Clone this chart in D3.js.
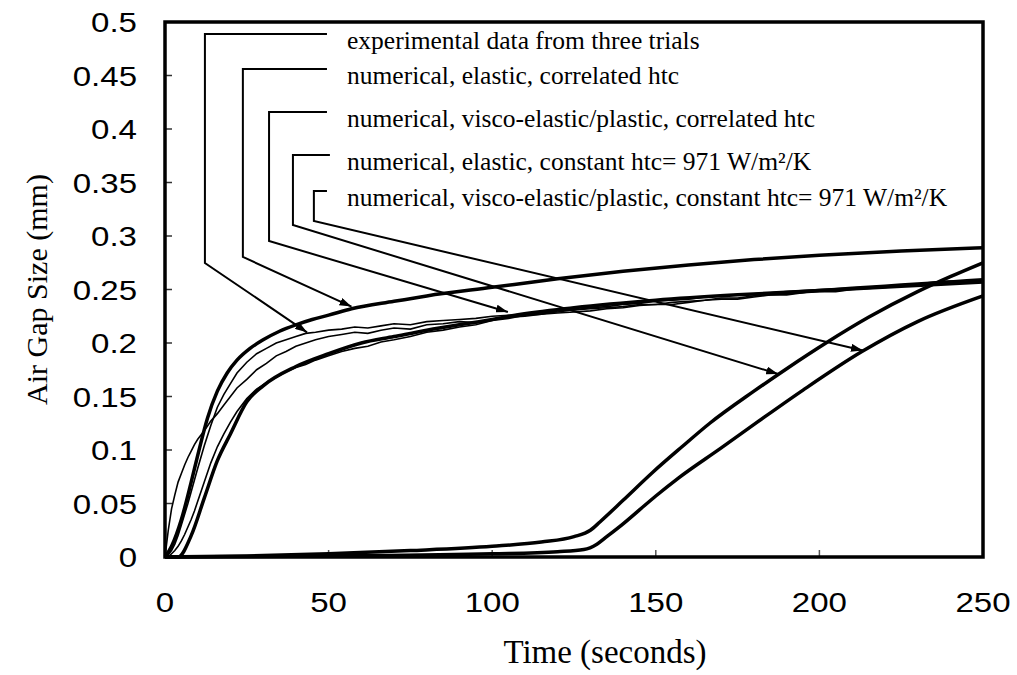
<!DOCTYPE html>
<html>
<head>
<meta charset="utf-8">
<script src="https://cdn.jsdelivr.net/npm/d3@7"></script>
<style>
  body { margin: 0; background: #fff; }
  .tick-label { font-family: "Liberation Sans", Arial, sans-serif; font-size: 28px; fill: #000; }
  .axis-title, .legend-text { font-family: "Liberation Serif", "Times New Roman", serif; fill: #000; }
</style>
</head>
<body>
<div id="chart"></div>
<script>
// time axis values (seconds) and air gap (mm)
var xTicks = [0, 50, 100, 150, 200, 250];
var yTicks = [0, 0.05, 0.1, 0.15, 0.2, 0.25, 0.3, 0.35, 0.4, 0.45, 0.5];

// numerical, elastic, correlated htc
var elasticCorrTime = [0, 2, 5, 8, 10, 13, 16, 19, 22, 26, 30, 35, 40, 45, 50, 57, 70, 80, 100, 120, 140, 160, 180, 200, 225, 250];
var elasticCorrGap = [0, 0.01, 0.035, 0.07, 0.095, 0.13, 0.155, 0.172, 0.184, 0.195, 0.203, 0.211, 0.217, 0.222, 0.226, 0.232, 0.239, 0.244, 0.252, 0.26, 0.267, 0.273, 0.278, 0.282, 0.286, 0.289];

// numerical, visco-elastic/plastic, correlated htc
var viscoCorrTime = [0, 4, 8, 12, 16, 20, 25, 30, 40, 50, 60, 70, 80, 100, 107, 125, 150, 175, 200, 225, 250];
var viscoCorrGap = [0, 0, 0.02, 0.055, 0.09, 0.115, 0.145, 0.16, 0.178, 0.19, 0.2, 0.206, 0.212, 0.222, 0.226, 0.233, 0.24, 0.245, 0.249, 0.253, 0.257];

// numerical, elastic, constant htc
var elasticConstTime = [0, 25, 50, 75, 100, 115, 125, 130, 133, 140, 149, 158, 166.5, 180, 190, 202, 215, 230, 240, 250];
var elasticConstGap = [0, 0.001, 0.003, 0.006, 0.01, 0.014, 0.019, 0.025, 0.033, 0.053, 0.079, 0.103, 0.125, 0.155, 0.176, 0.2, 0.224, 0.248, 0.262, 0.275];

// numerical, visco-elastic/plastic, constant htc
var viscoConstTime = [0, 50, 100, 120, 128, 132, 135, 140, 145, 150, 157, 170, 181, 195, 213, 230, 250];
var viscoConstGap = [0, 0.001, 0.003, 0.005, 0.007, 0.012, 0.019, 0.031, 0.044, 0.057, 0.074, 0.102, 0.126, 0.156, 0.192, 0.22, 0.244];

// experimental data, three trials
var expTime = [0, 1, 2, 3, 4, 5, 6, 7, 8, 9, 10, 12, 14, 16, 18, 20, 22, 25, 28, 31, 34, 37, 40, 43, 46, 50, 54, 58, 62, 66, 70, 75, 80, 85, 90, 95, 100, 105, 110, 115, 120, 125, 130, 135, 140, 145, 150, 155, 160, 165, 170, 175, 180, 185, 190, 195, 200, 205, 210, 215, 220, 225, 230, 235, 240, 245, 250];
var trial1 = [0, 0.025, 0.045, 0.058, 0.07, 0.078, 0.086, 0.093, 0.099, 0.105, 0.11, 0.118, 0.127, 0.134, 0.142, 0.15, 0.158, 0.166, 0.175, 0.181, 0.188, 0.192, 0.197, 0.2, 0.203, 0.206, 0.208, 0.21, 0.209, 0.212, 0.214, 0.213, 0.217, 0.218, 0.22, 0.219, 0.222, 0.224, 0.225, 0.227, 0.228, 0.229, 0.23, 0.232, 0.233, 0.235, 0.236, 0.236, 0.238, 0.24, 0.241, 0.241, 0.243, 0.245, 0.245, 0.247, 0.248, 0.248, 0.25, 0.251, 0.252, 0.253, 0.255, 0.256, 0.257, 0.258, 0.259];
var trial2 = [0, 0.002, 0.006, 0.012, 0.02, 0.03, 0.04, 0.05, 0.061, 0.072, 0.083, 0.104, 0.123, 0.14, 0.152, 0.162, 0.172, 0.182, 0.19, 0.195, 0.2, 0.203, 0.206, 0.209, 0.21, 0.212, 0.213, 0.215, 0.214, 0.216, 0.218, 0.217, 0.22, 0.221, 0.222, 0.223, 0.225, 0.226, 0.227, 0.228, 0.229, 0.231, 0.232, 0.233, 0.234, 0.236, 0.236, 0.238, 0.239, 0.24, 0.242, 0.242, 0.244, 0.245, 0.246, 0.247, 0.249, 0.249, 0.251, 0.252, 0.253, 0.254, 0.255, 0.257, 0.258, 0.259, 0.26];
var trial3 = [0, 0, 0.003, 0.006, 0.01, 0.015, 0.021, 0.028, 0.035, 0.043, 0.052, 0.07, 0.088, 0.103, 0.115, 0.126, 0.136, 0.148, 0.157, 0.163, 0.168, 0.173, 0.177, 0.18, 0.184, 0.188, 0.192, 0.195, 0.197, 0.201, 0.203, 0.206, 0.21, 0.212, 0.215, 0.217, 0.221, 0.223, 0.226, 0.227, 0.23, 0.231, 0.233, 0.234, 0.236, 0.237, 0.239, 0.24, 0.241, 0.243, 0.244, 0.245, 0.246, 0.247, 0.248, 0.249, 0.25, 0.251, 0.252, 0.253, 0.254, 0.255, 0.256, 0.257, 0.258, 0.258, 0.259];

var legendLabels = [
    'experimental data from three trials',
    'numerical, elastic, correlated htc',
    'numerical, visco-elastic/plastic, correlated htc',
    'numerical, elastic, constant htc= 971 W/m\u00b2/K',
    'numerical, visco-elastic/plastic, constant htc= 971 W/m\u00b2/K'
];
// leader lines in data units: [row t start, row t end, row gap, elbow gap, arrow t, arrow gap]
var leaders = [
    [12.2, 49.5, 0.4888, 0.2748, 43.4, 0.210],
    [23.8, 49.5, 0.456, 0.2804, 57, 0.234],
    [31.8, 49.5, 0.4159, 0.2953, 104.8, 0.229],
    [39.1, 50.4, 0.3757, 0.3103, 187.4, 0.171],
    [45.5, 49.5, 0.342, 0.314, 213.3, 0.193]
];

(function () {
    const W = 1017, H = 675,
        Left = 165, Right = 983, Top = 22, Bottom = 557,
        LabelStretch = 1.18;

    var svg = d3.select('#chart').append('svg')
        .attr('width', W)
        .attr('height', H);

    var x = d3.scaleLinear().domain([0, 250]).range([Left, Right]),
        y = d3.scaleLinear().domain([0, 0.5]).range([Bottom, Top]);

    function zip(ts, vs) {
        return ts.map((t, i) => [t, vs[i]]);
    }

    var smooth = d3.line().x(d => x(d[0])).y(d => y(d[1])).curve(d3.curveMonotoneX),
        rough = d3.line().x(d => x(d[0])).y(d => y(d[1]));

    // inner ticks
    svg.append('g').selectAll('line')
        .data(yTicks.slice(1, -1))
        .join('line')
        .attr('x1', Left).attr('x2', Left + 7)
        .attr('y1', d => y(d)).attr('y2', d => y(d))
        .attr('stroke', '#333').attr('stroke-width', 1.5);
    svg.append('g').selectAll('line')
        .data(xTicks.slice(1, -1))
        .join('line')
        .attr('x1', d => x(d)).attr('x2', d => x(d))
        .attr('y1', Bottom).attr('y2', Bottom - 7)
        .attr('stroke', '#555').attr('stroke-width', 1.5);

    // tick labels (the scan is a little wide, so stretch them)
    svg.append('g').selectAll('text')
        .data(yTicks)
        .join('text')
        .attr('class', 'tick-label')
        .attr('transform', d => `translate(137,${y(d)}) scale(${LabelStretch},1)`)
        .attr('dy', '0.36em')
        .attr('text-anchor', 'end')
        .text(d => d3.format('~g')(d));
    svg.append('g').selectAll('text')
        .data(xTicks)
        .join('text')
        .attr('class', 'tick-label')
        .attr('transform', d => `translate(${x(d)},612) scale(${LabelStretch},1)`)
        .attr('text-anchor', 'middle')
        .text(d => d);

    svg.append('text')
        .attr('class', 'axis-title')
        .attr('x', 605).attr('y', 663)
        .attr('text-anchor', 'middle')
        .style('font-size', '33px')
        .text('Time (seconds)');
    svg.append('text')
        .attr('class', 'axis-title')
        .attr('transform', `translate(47,${(Top + Bottom) / 2}) rotate(-90)`)
        .attr('text-anchor', 'middle')
        .style('font-size', '30px')
        .text('Air Gap Size (mm)');

    // experimental traces
    [trial1, trial2, trial3].forEach(function (vals) {
        svg.append('path')
            .attr('d', rough(zip(expTime, vals)))
            .attr('fill', 'none')
            .attr('stroke', '#000')
            .attr('stroke-width', 1.6);
    });

    // numerical curves
    [[elasticCorrTime, elasticCorrGap], [viscoCorrTime, viscoCorrGap],
     [elasticConstTime, elasticConstGap], [viscoConstTime, viscoConstGap]].forEach(function (s) {
        svg.append('path')
            .attr('d', smooth(zip(s[0], s[1])))
            .attr('fill', 'none')
            .attr('stroke', '#000')
            .attr('stroke-width', 3.5)
            .attr('stroke-linejoin', 'round');
    });

    // legend leaders with arrows
    var defs = svg.append('defs');
    defs.append('marker')
        .attr('id', 'arrow')
        .attr('viewBox', '0 0 12 8')
        .attr('refX', 12).attr('refY', 4)
        .attr('markerWidth', 12).attr('markerHeight', 8)
        .attr('markerUnits', 'userSpaceOnUse')
        .attr('orient', 'auto')
        .append('path')
        .attr('d', 'M0,0L12,4L0,8Z')
        .attr('fill', '#000');

    var lg = svg.append('g');
    lg.selectAll('path')
        .data(leaders)
        .join('path')
        .attr('d', d => `M${x(d[1])},${y(d[2])}H${x(d[0])}V${y(d[3])}L${x(d[4])},${y(d[5])}`)
        .attr('fill', 'none')
        .attr('stroke', '#000')
        .attr('stroke-width', 2)
        .attr('marker-end', 'url(#arrow)');
    lg.selectAll('text')
        .data(legendLabels)
        .join('text')
        .attr('class', 'legend-text')
        .attr('x', 347)
        .attr('y', (d, i) => y(leaders[i][2]) + 15)
        .style('font-size', '25.5px')
        .text(d => d);

    // frame
    svg.append('rect')
        .attr('x', Left).attr('y', Top)
        .attr('width', Right - Left).attr('height', Bottom - Top)
        .attr('fill', 'none')
        .attr('stroke', '#000')
        .attr('stroke-width', 3.5);
})();
</script>
</body>
</html>
